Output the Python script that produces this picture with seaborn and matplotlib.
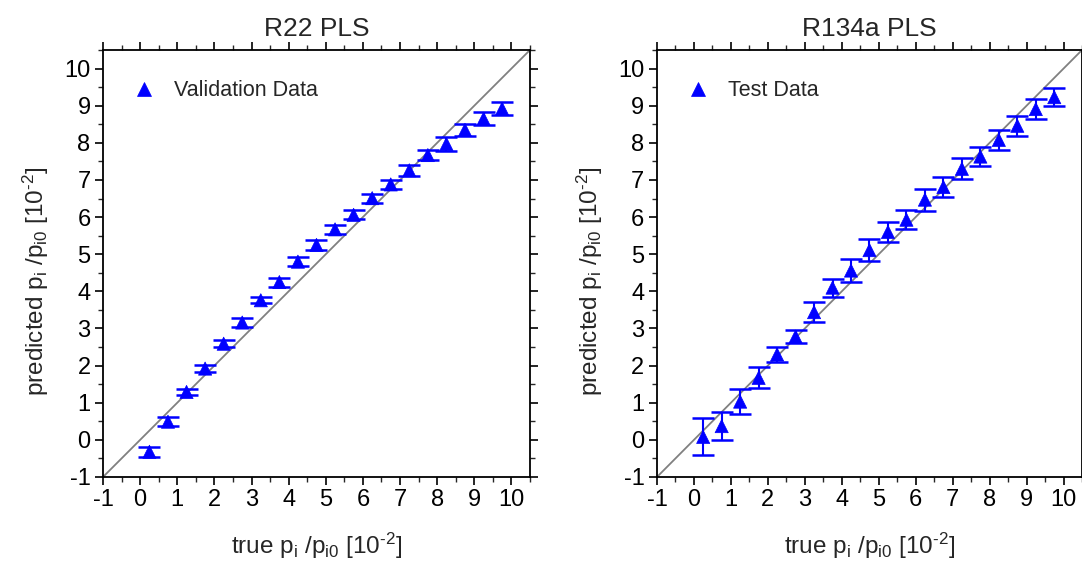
import numpy as np
import pandas as pd
import matplotlib
matplotlib.use("Agg")
import matplotlib.pyplot as plt
import seaborn as sns
from matplotlib.ticker import MultipleLocator

# ---- data ----
x_true = [0.25, 0.75, 1.25, 1.75, 2.25, 2.75, 3.25, 3.75, 4.25, 4.75,
          5.25, 5.75, 6.25, 6.75, 7.25, 7.75, 8.25, 8.75, 9.25, 9.75]

r22_pred = [-0.32, 0.49, 1.29, 1.92, 2.59, 3.16, 3.76, 4.25, 4.80, 5.25,
            5.67, 6.06, 6.51, 6.88, 7.26, 7.67, 7.97, 8.35, 8.65, 8.92]
r22_err = [0.13, 0.13, 0.08, 0.09, 0.10, 0.13, 0.08, 0.12, 0.13, 0.13,
           0.12, 0.12, 0.12, 0.13, 0.15, 0.13, 0.18, 0.17, 0.17, 0.17]

r134a_pred = [0.08, 0.37, 1.03, 1.67, 2.30, 2.78, 3.44, 4.10, 4.56, 5.11,
              5.60, 5.93, 6.47, 6.81, 7.30, 7.63, 8.08, 8.46, 8.91, 9.23]
r134a_err = [0.50, 0.37, 0.34, 0.28, 0.21, 0.18, 0.26, 0.24, 0.30, 0.30,
             0.28, 0.26, 0.30, 0.28, 0.28, 0.25, 0.26, 0.27, 0.26, 0.24]

titles = ["R22 PLS", "R134a PLS"]
legend_labels = ["Validation Data", "Test Data"]
tick_values = list(range(-1, 11))

sns.set_theme(style="ticks")
plt.rcParams["font.family"] = ["Liberation Sans", "DejaVu Sans"]
plt.rcParams["mathtext.fontset"] = "custom"
plt.rcParams["mathtext.rm"] = "Liberation Sans"
plt.rcParams["mathtext.it"] = "Liberation Sans"
plt.rcParams["axes.unicode_minus"] = False

fig = plt.figure(figsize=(10.82, 5.69), dpi=100)
ax1 = fig.add_axes([0.0952, 0.1617, 0.3946, 0.7504])
ax2 = fig.add_axes([0.6072, 0.1617, 0.3928, 0.7504])

xlabel = r"true p$_\mathrm{i}$ /p$_\mathrm{i0}$ [10$^{\text{-2}}$]"
ylabel = r"predicted p$_\mathrm{i}$ /p$_\mathrm{i0}$ [10$^{\text{-2}}$]"

blue = "#0000ff"
for ax, pred, err, title, lab in [(ax1, r22_pred, r22_err, titles[0], legend_labels[0]),
                                  (ax2, r134a_pred, r134a_err, titles[1], legend_labels[1])]:
    df = pd.DataFrame({"true": x_true, "pred": pred, "err": err, "set": lab})
    ax.plot([-1, 10.5], [-1, 10.5], color="#808080", lw=1.3, zorder=1)
    ax.errorbar(df["true"], df["pred"], yerr=df["err"], fmt="none",
                ecolor=blue, elinewidth=1.5, capsize=8, capthick=1.8, zorder=2)
    sns.scatterplot(data=df, x="true", y="pred", hue="set", palette=[blue],
                    marker="^", s=90, edgecolor=blue, linewidth=0.5, ax=ax, zorder=3)
    ax.set_xlim(-1, 10.5)
    ax.set_ylim(-1, 10.5)
    ax.set_xticks(tick_values)
    ax.set_yticks(tick_values)
    ax.xaxis.set_minor_locator(MultipleLocator(0.5))
    ax.yaxis.set_minor_locator(MultipleLocator(0.5))
    ax.tick_params(which="major", direction="out", length=6, width=1.2,
                   labelsize=17, colors="black", pad=3)
    ax.tick_params(which="minor", direction="out", length=3.5, width=1.0)
    ax.tick_params(which="both", top=True, right=True)
    for s in ax.spines.values():
        s.set_linewidth(1.3)
        s.set_color("black")
    ax.set_title(title, fontsize=19, pad=10)
    ax.set_xlabel(xlabel, fontsize=17.5)
    ax.set_ylabel(ylabel, fontsize=17.5)
    ax.xaxis.set_label_coords(0.5, -0.125)
    ax.yaxis.set_label_coords(-0.122, 0.457)
    leg = ax.legend(loc="upper left", frameon=False, fontsize=15.5,
                    handlelength=1.0, handletextpad=0.9,
                    borderaxespad=1.0, markerscale=1.0)

fig.savefig("out.png", dpi=100)
